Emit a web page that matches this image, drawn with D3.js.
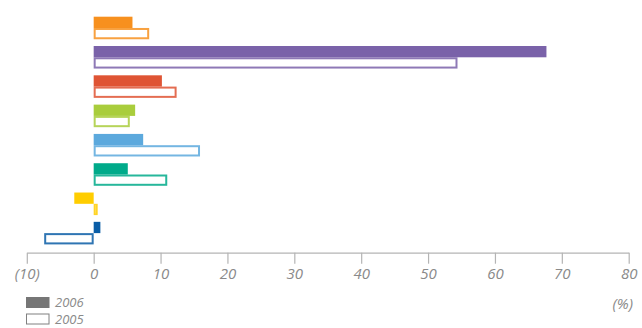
<!DOCTYPE html>
<html>
<head>
<meta charset="utf-8">
<script src="https://cdn.jsdelivr.net/npm/d3@7"></script>
<style>
  html, body { margin: 0; padding: 0; background: #fff; }
  svg { display: block; }
  text { font-family: "Open Sans", "Noto Sans", sans-serif; font-style: italic; fill: #8a8a8a; }
</style>
</head>
<body>
<svg id="chart" width="642" height="328"></svg>
<script>
// Business segments, top to bottom
const categories = ["seg1", "seg2", "seg3", "seg4", "seg5", "seg6", "seg7", "seg8"];
const colors = ["#F7901E", "#7A62A9", "#DF5434", "#A9CD3C", "#5CA9DD", "#00AA8A", "#FFCD00", "#0A5DA6"];
// Growth (%) per segment
const values2006 = [5.8, 67.7, 10.2, 6.2, 7.4, 5.1, -2.9, 1.0];
const values2005 = [8.3, 54.4, 12.4, 5.4, 15.9, 11.0, 0.6, -7.4];
const years = ["2006", "2005"];
const tickValues = [-10, 0, 10, 20, 30, 40, 50, 60, 70, 80];
const tickFormat = v => v < 0 ? `(${Math.abs(v)})` : `${v}`;

const svg = d3.select("#chart");

const x = d3.scaleLinear().domain([-10, 80]).range([26.8, 628.7]);
const y = d3.scaleBand().domain(categories).range([16.7, 244.4]).paddingInner(0.23).paddingOuter(0);
const sub = d3.scaleBand().domain(years).range([0, y.bandwidth()]);

const rows = categories.map((c, i) => ({ c, color: colors[i], v06: values2006[i], v05: values2005[i] }));

const g = svg.append("g");

// 2006: solid bars
g.selectAll("rect.y06").data(rows).join("rect")
  .attr("class", "y06")
  .attr("x", d => x(Math.min(0, d.v06)))
  .attr("y", d => y(d.c) + sub("2006"))
  .attr("width", d => Math.abs(x(d.v06) - x(0)))
  .attr("height", sub.bandwidth())
  .attr("fill", d => d.color);

// 2005: outlined bars
const sw = 2;
g.selectAll("rect.y05").data(rows).join("rect")
  .attr("class", "y05")
  .attr("x", d => x(Math.min(0, d.v05)) + sw / 2)
  .attr("y", d => y(d.c) + sub("2005") + sw / 2)
  .attr("width", d => Math.max(0, Math.abs(x(d.v05) - x(0)) - sw))
  .attr("height", sub.bandwidth() - sw)
  .attr("fill", "#fff")
  .attr("stroke", d => d.color)
  .attr("stroke-opacity", 0.85)
  .attr("stroke-width", sw);

// X axis
const axis = d3.axisBottom(x).tickValues(tickValues).tickFormat(tickFormat)
  .tickSize(11).tickPadding(5).tickSizeOuter(0);
const ax = svg.append("g").attr("transform", "translate(0,252.7)").call(axis);
ax.select(".domain").attr("stroke", "#b4b4b4").attr("stroke-width", 1.2);
ax.selectAll(".tick line").attr("stroke", "#b4b4b4").attr("stroke-width", 1.2);
ax.selectAll(".tick text")
  .attr("fill", "#8a8a8a")
  .style("font-family", '"Open Sans", "Noto Sans", sans-serif')
  .style("font-style", "italic")
  .style("font-size", "15px");

// Unit label
svg.append("text").attr("x", 633).attr("y", 309).attr("text-anchor", "end")
  .style("font-size", "15px").text("(%)");

// Legend
const legend = svg.append("g");
legend.append("rect").attr("x", 26).attr("y", 297).attr("width", 23.5).attr("height", 11)
  .attr("fill", "#767676");
legend.append("text").attr("x", 55).attr("y", 306.8).style("font-size", "13px").text(years[0]);
legend.append("rect").attr("x", 26.5).attr("y", 314).attr("width", 22.5).attr("height", 10)
  .attr("fill", "#fff").attr("stroke", "#808080").attr("stroke-width", 1);
legend.append("text").attr("x", 55).attr("y", 324).style("font-size", "13px").text(years[1]);
</script>
</body>
</html>
